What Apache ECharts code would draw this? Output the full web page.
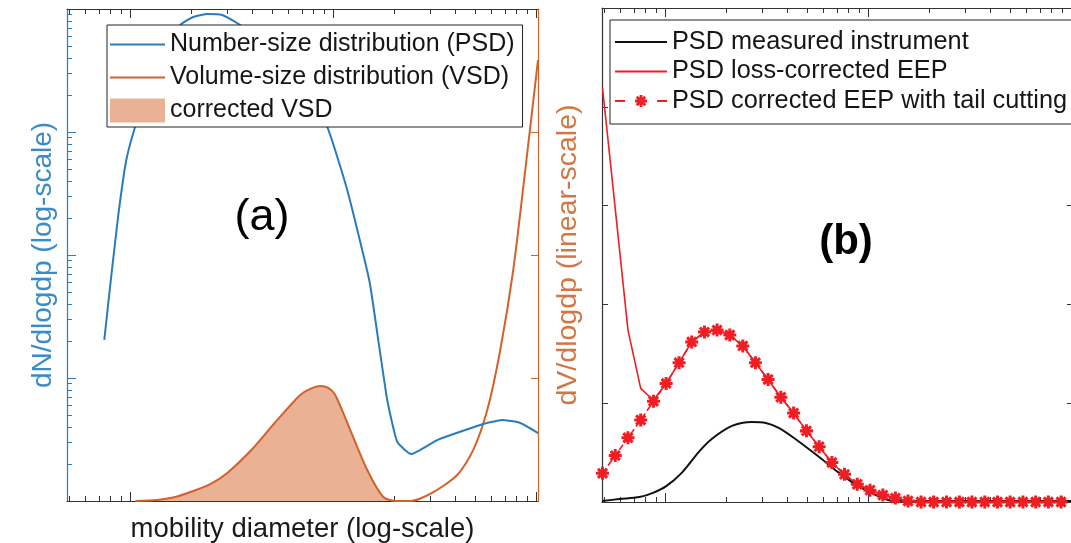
<!DOCTYPE html>
<html><head><meta charset="utf-8">
<script src="https://cdn.jsdelivr.net/npm/echarts@6/dist/echarts.min.js"></script>
<style>html,body{margin:0;padding:0;background:#fff}#c{width:1071px;height:543px}</style>
</head><body><div id="c"></div>
<script>
// ---------- Panel (a) ----------
const psdDiam = [7.45, 7.97, 8.73, 9.56, 10.35, 11.86, 14.05, 17.63, 20.43, 23.95, 28.39, 34.83, 48.95, 68.78, 93.4, 117.2, 150.4, 166.6, 184.5, 206.7, 242.3, 325.3, 529.9, 680.0, 834.2, 1020];
const psdValue = [20.4, 57.0, 211, 592, 982, 2000, 3850, 7410, 8610, 9110, 8940, 7410, 5100, 2650, 1100, 338, 62.6, 20.4, 6.62, 3.02, 2.41, 3.13, 4.15, 4.56, 4.31, 3.57];
const vsdDiam = [10.58, 13.58, 16.66, 19.75, 24.79, 30.05, 40.36, 52.99, 68.78, 77.01, 86.30, 94.5, 102.3, 121.3, 147.1, 176.3, 202.0, 239.5, 300.5, 408.1, 489.4, 573.6, 664.8, 770.3, 882.9, 1020];
const vsdValue = [0, 0.008, 0.033, 0.073, 0.138, 0.228, 0.431, 0.659, 0.862, 0.911, 0.935, 0.919, 0.862, 0.577, 0.252, 0.033, 0, 0, 0.057, 0.211, 0.415, 0.740, 1.228, 1.878, 2.691, 3.585];
const corrVsdDiam = [10.58, 13.58, 16.66, 19.75, 24.79, 30.05, 40.36, 52.99, 68.78, 77.01, 86.30, 94.5, 102.3, 121.3, 147.1, 176.3, 202.0];
const corrVsdValue = [0, 0.008, 0.033, 0.073, 0.138, 0.228, 0.431, 0.659, 0.862, 0.911, 0.935, 0.919, 0.862, 0.577, 0.252, 0.033, 0];

// ---------- Panel (b) ----------
const eepDiam = [4.91, 5.67, 6.55, 7.57, 8.75, 10.1, 11.7, 13.5, 15.6, 18.0, 20.8, 24.1, 27.8, 32.1, 37.1, 42.9, 49.6, 57.3, 66.2, 76.4, 88.3, 102, 118, 136, 157, 182, 210, 243, 281, 324, 375, 433, 500, 578, 668, 771, 891];
const lossCorrValue = [4.19, 2.97, 1.74, 1.15, 1.03, 1.20, 1.41, 1.62, 1.72, 1.74, 1.69, 1.58, 1.41, 1.24, 1.06, 0.90, 0.72, 0.56, 0.40, 0.28, 0.18, 0.12, 0.07, 0.04, 0.01, 0, 0, 0, 0, 0, 0, 0, 0, 0, 0, 0, 0];
const tailCutValue = [0.29, 0.47, 0.65, 0.83, 1.02, 1.20, 1.41, 1.62, 1.72, 1.74, 1.69, 1.58, 1.41, 1.24, 1.06, 0.90, 0.72, 0.56, 0.40, 0.28, 0.18, 0.12, 0.07, 0.04, 0.01, 0, 0, 0, 0, 0, 0, 0, 0, 0, 0, 0, 0];
const measuredDiam = [4.88, 5.95, 7.46, 8.64, 10.11, 12.12, 14.68, 17.0, 21.3, 26.7, 31.3, 36.2, 42.9, 56.9, 71.3, 89.3, 111.9, 132.6, 1020];
const measuredValue = [0.01, 0.03, 0.05, 0.09, 0.16, 0.30, 0.51, 0.64, 0.77, 0.81, 0.80, 0.75, 0.65, 0.46, 0.30, 0.16, 0.06, 0.01, 0.01];

// ---------- Axes ----------
const xRange = [4.88, 1020];
const xMajorTicks = [10, 100, 1000];
const xMinorTicks = [5, 6, 7, 8, 9, 20, 30, 40, 50, 60, 70, 80, 90, 200, 300, 400, 500, 600, 700, 800, 900];
const nRange = [1, 10000];
const nMajorTicks = [10, 100, 1000];
const nMinorTicks = [2, 3, 4, 5, 6, 7, 8, 9, 20, 30, 40, 50, 60, 70, 80, 90, 200, 300, 400, 500, 600, 700, 800, 900, 2000, 3000, 4000, 5000, 6000, 7000, 8000, 9000];
const vRange = [0, 4];
const bRange = [0, 5];

const names = {
  psd: 'Number-size distribution (PSD)',
  vsd: 'Volume-size distribution (VSD)',
  cvsd: 'corrected VSD',
  meas: 'PSD measured instrument',
  loss: 'PSD loss-corrected EEP',
  tail: 'PSD corrected EEP with tail cutting'
};

const FONT = '"Liberation Sans", Arial, sans-serif';
const BLUE = '#2b7bba';
const ORANGE = '#d4602a';
const ORANGE_TXT = '#d27744';
const FILL = '#eab194';
const RED = '#f01d22';
const AX = '#333333';

const lg = Math.log10;
const STAR = 'path://M-1.4,-6 L1.4,-6 L1.4,6 L-1.4,6 Z M-6,-1.4 L6,-1.4 L6,1.4 L-6,1.4 Z M-5.23,-3.25 L-3.25,-5.23 L5.23,3.25 L3.25,5.23 Z M-3.25,5.23 L-5.23,3.25 L3.25,-5.23 L5.23,-3.25 Z';
const LINE_ICON = 'path://M0,0 L55,0 L55,2 L0,2 Z';
const STAR_ICON = 'path://M0,-1 L10,-1 L10,1 L0,1 Z M42,-1 L52,-1 L52,1 L42,1 Z M24.6,-6 L27.4,-6 L27.4,6 L24.6,6 Z M20,-1.4 L32,-1.4 L32,1.4 L20,1.4 Z M20.77,-3.25 L22.75,-5.23 L31.23,3.25 L29.25,5.23 Z M22.75,5.23 L20.77,3.25 L29.25,-5.23 L31.23,-3.25 Z';

function tickAxis(gridIndex, position, range, ticks, len, showLine, color, isLog) {
  const f = isLog ? lg : (v => v);
  return {
    type: 'value', gridIndex, position,
    min: f(range[0]), max: f(range[1]),
    axisLine: { show: showLine, onZero: false, lineStyle: { color, width: 1.2 } },
    axisTick: { show: true, inside: true, length: len, customValues: ticks.map(f), lineStyle: { color, width: 1 } },
    axisLabel: { show: false },
    splitLine: { show: false }
  };
}

const xAxes = [
  tickAxis(0, 'bottom', xRange, xMajorTicks, 9, true, AX, true),
  tickAxis(0, 'bottom', xRange, xMinorTicks, 5, false, AX, true),
  tickAxis(0, 'top', xRange, xMajorTicks, 9, true, AX, true),
  tickAxis(0, 'top', xRange, xMinorTicks, 5, false, AX, true),
  tickAxis(1, 'bottom', xRange, xMajorTicks, 9, true, AX, true),
  tickAxis(1, 'bottom', xRange, xMinorTicks, 5, false, AX, true),
  tickAxis(1, 'top', xRange, xMajorTicks, 9, true, AX, true),
  tickAxis(1, 'top', xRange, xMinorTicks, 5, false, AX, true)
];
Object.assign(xAxes[0], {
  name: 'mobility diameter (log-scale)', nameLocation: 'middle', nameGap: 14,
  nameTextStyle: { fontSize: 27.5, color: '#1a1a1a', fontFamily: FONT }
});

const yAxes = [
  tickAxis(0, 'left', nRange, nMajorTicks, 9, true, BLUE, true),
  tickAxis(0, 'left', nRange, nMinorTicks, 5, false, BLUE, true),
  tickAxis(0, 'right', vRange, [1, 2, 3], 7, true, ORANGE, false),
  tickAxis(1, 'left', bRange, [1, 2, 3, 4], 6, true, AX, false),
  tickAxis(1, 'right', bRange, [1, 2, 3, 4], 6, true, AX, false)
];
Object.assign(yAxes[0], {
  name: 'dN/dlogdp (log-scale)', nameLocation: 'middle', nameGap: 10, nameRotate: 90,
  nameTextStyle: { fontSize: 28, color: '#3a8cc6', fontFamily: FONT }
});
Object.assign(yAxes[2], {
  name: 'dV/dlogdp (linear-scale)', nameLocation: 'middle', nameGap: 16, nameRotate: 90,
  nameTextStyle: { fontSize: 28.5, color: ORANGE_TXT, fontFamily: FONT }
});

const pair = (xs, ys, fy) => xs.map((d, i) => [lg(d), fy ? fy(ys[i]) : ys[i]]);

const option = {
  animation: false,
  backgroundColor: '#ffffff',
  textStyle: { fontFamily: FONT },
  grid: [
    { left: 67, top: 9, width: 471, height: 492, outerBoundsMode: 'none', containLabel: false },
    { left: 602, top: 8, width: 471, height: 494, outerBoundsMode: 'none', containLabel: false }
  ],
  xAxis: xAxes,
  yAxis: yAxes,
  legend: [
    {
      orient: 'vertical', left: 107, top: 25, padding: [7, 8, 4, 3], itemGap: 8,
      itemWidth: 55, itemHeight: 24, backgroundColor: '#fff', borderColor: '#222', borderWidth: 1,
      textStyle: { fontSize: 25, color: '#161616', fontFamily: FONT },
      selectedMode: false,
      data: [
        { name: names.psd, icon: LINE_ICON, itemStyle: { color: BLUE, borderWidth: 0 } },
        { name: names.vsd, icon: LINE_ICON, itemStyle: { color: ORANGE, borderWidth: 0 } },
        { name: names.cvsd, icon: 'rect', itemStyle: { color: FILL, borderWidth: 0 } }
      ]
    },
    {
      orient: 'vertical', left: 610, top: 20, padding: [9.5, 30, 10.5, 5], itemGap: 4.5,
      itemWidth: 52, itemHeight: 20, backgroundColor: '#fff', borderColor: '#222', borderWidth: 1,
      textStyle: { fontSize: 25.3, color: '#161616', fontFamily: FONT },
      selectedMode: false,
      data: [
        { name: names.meas, icon: 'path://M0,0 L52,0 L52,2 L0,2 Z', itemStyle: { color: '#111', borderWidth: 0 } },
        { name: names.loss, icon: 'path://M0,0 L52,0 L52,2 L0,2 Z', itemStyle: { color: RED, borderWidth: 0 } },
        { name: names.tail, icon: STAR_ICON, itemStyle: { color: RED, borderWidth: 0 } }
      ]
    }
  ],
  graphic: [
    { type: 'text', x: 262, y: 218, style: { text: '(a)', font: '45px "Liberation Sans", Arial, sans-serif', fill: '#000', align: 'center', verticalAlign: 'middle' } },
    { type: 'text', x: 846, y: 242, style: { text: '(b)', font: 'bold 42px "Liberation Sans", Arial, sans-serif', fill: '#000', align: 'center', verticalAlign: 'middle' } }
  ],
  series: [
    {
      name: names.cvsd, type: 'line', xAxisIndex: 0, yAxisIndex: 2, z: 1,
      data: pair(corrVsdDiam, corrVsdValue), symbol: 'none', smooth: 0.25,
      itemStyle: { color: FILL }, lineStyle: { width: 0, opacity: 0 },
      areaStyle: { color: FILL, opacity: 1 }
    },
    {
      name: names.vsd, type: 'line', xAxisIndex: 0, yAxisIndex: 2, z: 2,
      data: pair(vsdDiam, vsdValue), symbol: 'none', smooth: 0.25,
      itemStyle: { color: ORANGE }, lineStyle: { color: ORANGE, width: 2 }
    },
    {
      name: names.psd, type: 'line', xAxisIndex: 0, yAxisIndex: 0, z: 3,
      data: pair(psdDiam, psdValue, lg), symbol: 'none', smooth: 0.15,
      itemStyle: { color: BLUE }, lineStyle: { color: BLUE, width: 2 }
    },
    {
      name: names.meas, type: 'line', xAxisIndex: 4, yAxisIndex: 3, z: 2,
      data: pair(measuredDiam, measuredValue), symbol: 'none', smooth: 0.3,
      itemStyle: { color: '#111' }, lineStyle: { color: '#111', width: 2 }
    },
    {
      name: names.loss, type: 'line', xAxisIndex: 4, yAxisIndex: 3, z: 3,
      data: pair(eepDiam, lossCorrValue), symbol: 'none',
      itemStyle: { color: RED }, lineStyle: { color: RED, width: 1.6 }
    },
    {
      name: names.tail, type: 'line', xAxisIndex: 4, yAxisIndex: 3, z: 4,
      data: pair(eepDiam, tailCutValue), symbol: STAR, symbolSize: 13, showSymbol: true, showAllSymbol: true,
      itemStyle: { color: RED }, lineStyle: { color: RED, width: 1.6, type: 'dashed' }
    }
  ]
};

const chart = echarts.init(document.getElementById('c'), null, { renderer: 'canvas' });
chart.setOption(option);
</script>
</body></html>
